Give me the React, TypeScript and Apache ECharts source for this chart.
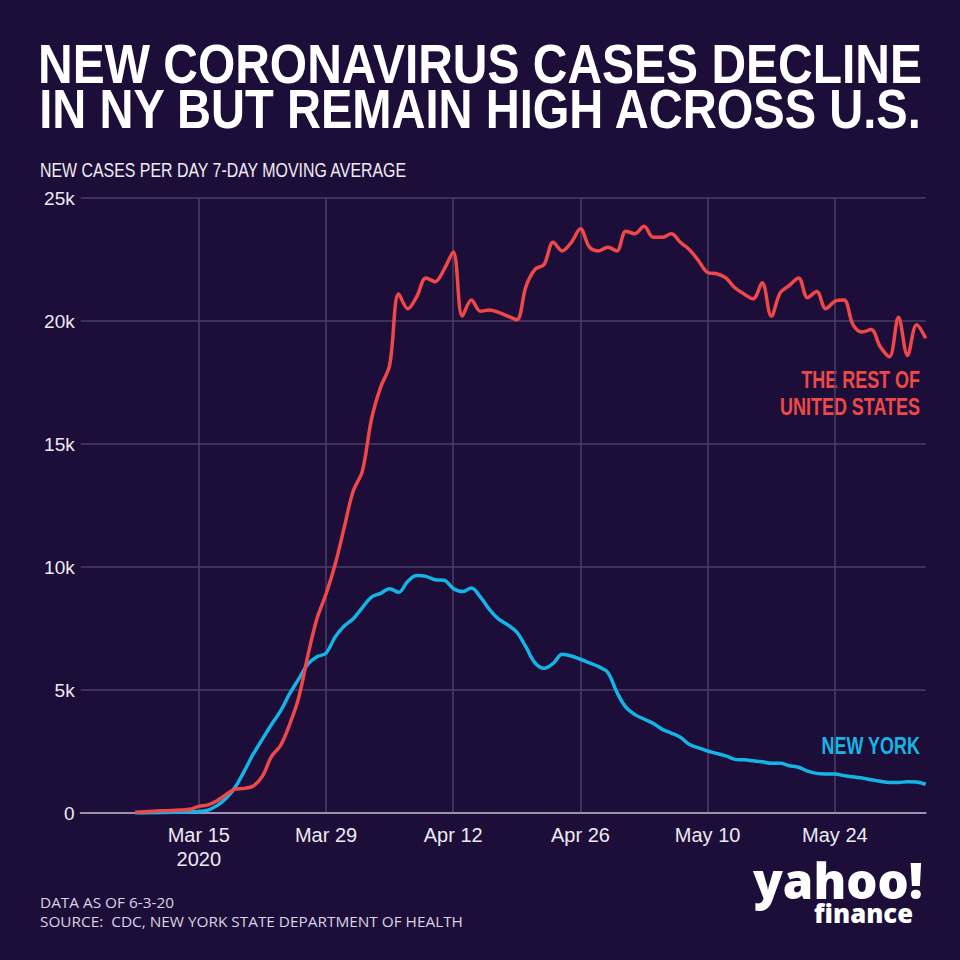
import React, { useEffect, useRef } from "react";
import * as echarts from "echarts";

// Data starts Mar 8, 2020 and ends Jun 3, 2020 (daily, 7-day moving average, thousands)
const monthSpans: [string, number, number][] = [
  ["Mar", 2, 31],
  ["Apr", 1, 30],
  ["May", 1, 31],
  ["Jun", 1, 3],
];
const dataStartLabel = "Mar 8";
const tickLabels = ["Mar 15", "Mar 29", "Apr 12", "Apr 26", "May 10", "May 24"];
const yearLabelFor = "Mar 15";
const yearLabel = "2020";

const restOfUS = [
  0.03, 0.05, 0.07, 0.09, 0.1, 0.12, 0.15, 0.27, 0.33, 0.5,
  0.75, 0.97, 1.0, 1.1, 1.5, 2.3, 2.75, 3.6, 4.7, 6.4,
  7.9, 8.9, 10.1, 11.6, 13.1, 13.9, 16.0, 17.3, 18.2, 21.1,
  20.5, 21.0, 21.75, 21.6, 22.1, 22.8, 20.2, 20.85, 20.4, 20.45,
  20.35, 20.2, 20.05, 21.4, 22.1, 22.3, 23.2, 22.85, 23.2, 23.75,
  23.0, 22.85, 23.0, 22.85, 23.65, 23.55, 23.85, 23.4, 23.4, 23.55,
  23.2, 22.9, 22.45, 21.97, 21.92, 21.75, 21.35, 21.1, 20.9, 21.55,
  20.2, 21.15, 21.45, 21.75, 20.95, 21.2, 20.5, 20.8, 20.85, 19.85,
  19.55, 19.65, 18.95, 18.55, 20.15, 18.6, 19.85, 19.3,
];

const newYork = [
  0.0, 0.0, 0.01, 0.02, 0.03, 0.04, 0.05, 0.06, 0.12, 0.3,
  0.6, 1.05, 1.7, 2.4, 3.0, 3.6, 4.15, 4.85, 5.45, 6.05,
  6.35, 6.5, 7.15, 7.6, 7.9, 8.35, 8.78, 8.93, 9.12, 8.97,
  9.42, 9.65, 9.62, 9.48, 9.46, 9.13, 9.0, 9.15, 8.78, 8.27,
  7.88, 7.65, 7.35, 6.75, 6.1, 5.88, 6.08, 6.45, 6.38, 6.25,
  6.1, 5.95, 5.72, 4.92, 4.3, 4.0, 3.82, 3.65, 3.4, 3.25,
  3.08, 2.78, 2.65, 2.52, 2.42, 2.32, 2.18, 2.16, 2.12, 2.08,
  2.02, 2.02, 1.92, 1.86, 1.7, 1.61, 1.59, 1.59, 1.52, 1.47,
  1.42, 1.35, 1.29, 1.24, 1.24, 1.27, 1.26, 1.17,
];

const yMax = 25;
const yStep = 5;

const titleLines = ["NEW CORONAVIRUS CASES DECLINE", "IN NY BUT REMAIN HIGH ACROSS U.S."];
const subtitle = "NEW CASES PER DAY 7-DAY MOVING AVERAGE";
const restLabel = ["THE REST OF", "UNITED STATES"];
const nyLabel = "NEW YORK";
const footerLines = ["DATA AS OF 6-3-20", "SOURCE:  CDC, NEW YORK STATE DEPARTMENT OF HEALTH"];

const BG = "#1d0e39";
const RED = "#f04848";
const BLUE = "#13b5e6";
const GRID = "#4a3e68";
const SANS = "'Liberation Sans', Arial, sans-serif";
const FOOT = "'Open Sans', sans-serif";
const LOGO = "'Open Sans', Lato, sans-serif";

function buildCategories(): string[] {
  const out: string[] = [];
  for (const [m, a, b] of monthSpans) {
    for (let d = a; d <= b; d++) out.push(`${m} ${d}`);
  }
  return out;
}

let ctx: CanvasRenderingContext2D | null = null;
function measure(text: string, font: string): number {
  if (!ctx) ctx = document.createElement("canvas").getContext("2d");
  if (!ctx) return 1;
  ctx.font = font;
  return ctx.measureText(text).width || 1;
}

export default function App() {
  const ref = useRef<HTMLDivElement>(null);

  useEffect(() => {
    if (!ref.current) return;
    const chart = echarts.init(ref.current, null, { renderer: "svg" });
    const categories = buildCategories();
    const offset = categories.indexOf(dataStartLabel);
    const pad = (arr: number[]) => {
      const full: (number | null)[] = categories.map(() => null);
      arr.forEach((v, i) => {
        full[offset + i] = v;
      });
      return full;
    };
    const isTick = (_i: number, v: string) => tickLabels.includes(v);

    const titleFont = `bold 56px ${SANS}`;
    const subFont = `19.5px ${SANS}`;
    const annFont = `bold 23px ${SANS}`;
    const footFont = `15px ${FOOT}`;
    const logoFont = `900 50px ${LOGO}`;
    const finFont = `900 27px ${LOGO}`;

    const annScale = 140 / measure(restLabel[1], annFont);
    const footScale = 423 / measure(footerLines[1], footFont);

    const txt = (
      text: string,
      x: number,
      y: number,
      font: string,
      fill: string,
      align: string,
      scaleX: number
    ) => ({
      type: "text",
      x,
      y,
      scaleX,
      silent: true,
      style: { text, fill, font, align, verticalAlign: "middle" },
    });

    chart.setOption({
      animation: false,
      backgroundColor: BG,
      grid: { left: 80.7, right: 34.3, top: 198, bottom: 147, containLabel: false },
      xAxis: {
        type: "category",
        data: categories,
        boundaryGap: false,
        axisLine: { show: true, lineStyle: { color: "#9a92ae", width: 2 } },
        axisTick: { show: false },
        axisLabel: {
          interval: isTick,
          color: "#eceaf2",
          fontFamily: SANS,
          fontSize: 20,
          lineHeight: 24,
          margin: 10,
          formatter: (v: string) => (v === yearLabelFor ? `${v}\n${yearLabel}` : v),
        },
        splitLine: { show: true, interval: isTick, lineStyle: { color: GRID, width: 1.5 } },
      },
      yAxis: {
        type: "value",
        min: 0,
        max: yMax,
        interval: yStep,
        axisLine: { show: false },
        axisTick: { show: false },
        axisLabel: {
          color: "#eceaf2",
          fontFamily: SANS,
          fontSize: 19,
          margin: 6,
          formatter: (v: number) => (v === 0 ? "0" : `${v}k`),
        },
        splitLine: { show: true, lineStyle: { color: GRID, width: 1.5 } },
      },
      series: [
        {
          name: "The rest of United States",
          type: "line",
          data: pad(restOfUS),
          smooth: 0.35,
          showSymbol: false,
          lineStyle: { color: RED, width: 3.5 },
          z: 3,
        },
        {
          name: "New York",
          type: "line",
          data: pad(newYork),
          smooth: 0.35,
          showSymbol: false,
          lineStyle: { color: BLUE, width: 3.5 },
          z: 2,
        },
      ],
      graphic: [
        txt(titleLines[0], 480, 64, titleFont, "#ffffff", "center", 884 / measure(titleLines[0], titleFont)),
        txt(titleLines[1], 480, 109, titleFont, "#ffffff", "center", 884 / measure(titleLines[1], titleFont)),
        txt(subtitle, 40, 170, subFont, "#eeecf3", "left", 368 / measure(subtitle, subFont)),
        txt(restLabel[0], 920, 380, annFont, RED, "right", annScale),
        txt(restLabel[1], 920, 407, annFont, RED, "right", annScale),
        txt(nyLabel, 920, 746, annFont, BLUE, "right", annScale),
        txt(footerLines[0], 40, 902, footFont, "#d8d4e2", "left", footScale),
        txt(footerLines[1], 40, 921.5, footFont, "#d8d4e2", "left", footScale),
        txt("yahoo!", 923, 880, logoFont, "#ffffff", "right", 170 / measure("yahoo!", logoFont)),
        txt("finance", 913, 913, finFont, "#ffffff", "right", 99 / measure("finance", finFont)),
      ],
    });

    return () => chart.dispose();
  }, []);

  return (
    <div
      ref={ref}
      style={{ position: "fixed", left: 0, top: 0, width: 960, height: 960 }}
    />
  );
}
